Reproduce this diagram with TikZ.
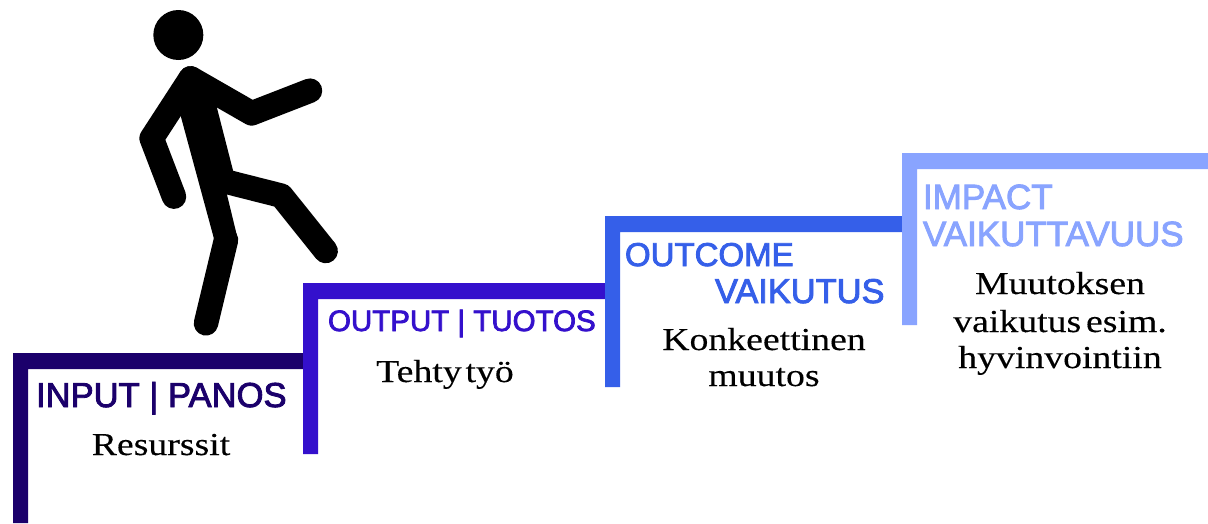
\documentclass[tikz,border=0pt]{standalone}
\usepackage{fontspec}
\setmainfont[FakeStretch=1.18,FakeBold=0.25]{Liberation Serif}
\newfontfamily\headfont[FakeBold=2.5]{Liberation Sans}
\definecolor{cinput}{HTML}{1B006B}
\definecolor{coutput}{HTML}{3410CC}
\definecolor{coutcome}{HTML}{355FE9}
\definecolor{cimpact}{HTML}{89A4FF}
\newcommand{\headsize}[1]{\headfont\fontsize{#1}{#1}\selectfont}
\tikzset{
  head/.style={anchor=base west,inner sep=0pt,outer sep=0pt},
  body/.style={anchor=base,inner sep=0pt,outer sep=0pt,text=black,font=\fontsize{32}{32}\selectfont},
  limb/.style={line width=24.5pt,line cap=round,line join=round,draw=black}
}
\begin{document}
\begin{tikzpicture}[x=1pt,y=-1pt]
\useasboundingbox (0,0) rectangle (1208,523);
\fill[white] (0,0) rectangle (1208,523);
% stairs
\fill[cinput] (13,523) -- (13,353) -- (310,353) -- (310,369) -- (28,369) -- (28,523) -- cycle;
\fill[coutput] (303,454) -- (303,283) -- (612,283) -- (612,299) -- (318,299) -- (318,454) -- cycle;
\fill[coutcome] (605,387) -- (605,216) -- (910,216) -- (910,232) -- (620,232) -- (620,387) -- cycle;
\fill[cimpact] (902,325) -- (902,153) -- (1208,153) -- (1208,169) -- (917,169) -- (917,325) -- cycle;
% walker
\begin{scope}[shift={(120,0)},x=0.33333pt,y=-0.33333pt]
\fill[black] (175,105) circle[radius=75];
\draw[limb] (212,235) -- (95,415) -- (162,590);
\draw[limb] (212,235) -- (395,340) -- (570,272);
\draw[limb] (330,548) -- (484,587) -- (617,753);
\draw[limb] (318,720) -- (258,970);
\fill[black] (180,340) -- (283,720) -- (354,720) -- (320,580) -- (340,515) -- (290,320) -- (212,235) -- cycle;
\end{scope}
% headings
\node[head,text=cinput,font=\headsize{34.6}] (inputhead) at (36,407) {INPUT | PANOS};
\node[head,text=coutput,font=\headsize{29.5}] (outputhead) at (328,331) {OUTPUT | TUOTOS};
\node[head,text=coutcome,font=\headsize{33}] (outcomehead) at (625,266) {OUTCOME};
\node[head,text=coutcome,font=\headsize{34.4}] (vaikutushead) at (715,303) {VAIKUTUS};
\node[head,text=cimpact,font=\headsize{35}] (impacthead) at (923,209) {IMPACT};
\node[head,text=cimpact,font=\headsize{35}] (vaikuttavuushead) at (923,246) {VAIKUTTAVUUS};
% body text
\node[body] (resurssit) at (161,455) {Resurssit};
\node[body] (tehty) at (445,382) {Tehty\hspace{0.12em}työ};
\node[body] (konk) at (764,350) {Konkeettinen};
\node[body] (muutos) at (764,386) {muutos};
\node[body] (muutoksen) at (1060,294) {Muutoksen};
\node[body] (vaikutus) at (1060,332) {vaikutus\hspace{0.15em}esim.};
\node[body] (hyvin) at (1060,368) {hyvinvointiin};
\end{tikzpicture}
\end{document}
